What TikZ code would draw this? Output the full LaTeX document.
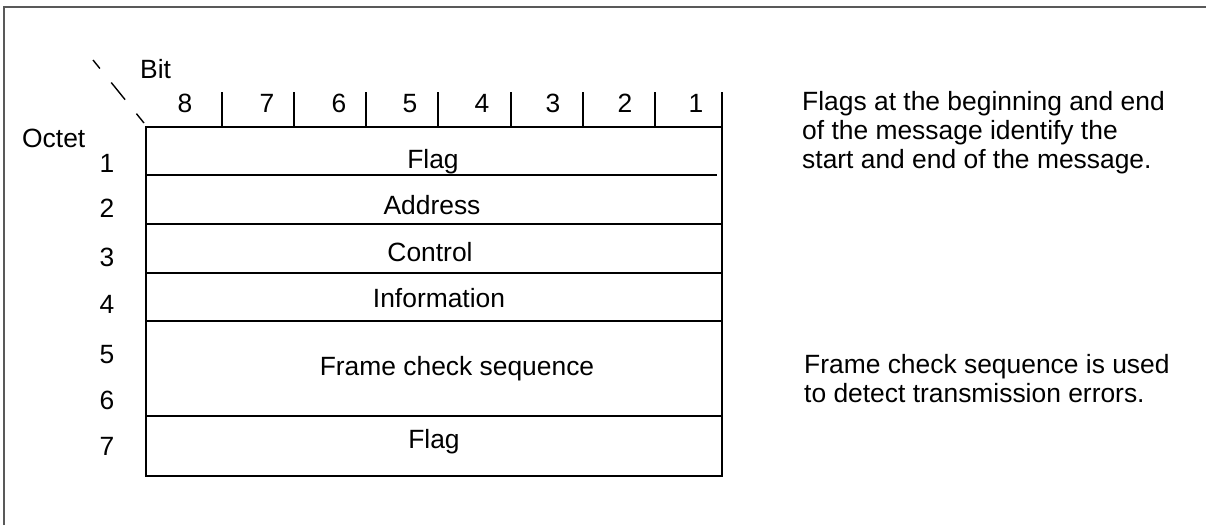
\documentclass[tikz,border=0pt]{standalone}
\usepackage{fontspec}
\setmainfont{Liberation Sans}
\usetikzlibrary{positioning}
\tikzset{
  rule/.style={line width=1.8pt},
  frameline/.style={black!65, line width=1.5pt},
  field/.style={anchor=base, inner sep=0pt},
  numlabel/.style={anchor=base, inner sep=0pt},
  note/.style={anchor=base west, align=left, inner sep=0pt},
}
\begin{document}
\begin{tikzpicture}[x=1pt,y=-1pt,font=\fontsize{26.4}{29}\selectfont]
  \useasboundingbox (0,0) rectangle (1206,525);
  % frame
  \draw[frameline] (4,525) -- (4,7) -- (1206,7);
  % table
  \coordinate (tl) at (146,127);
  \coordinate (br) at (722,476);
  \draw[rule] (tl) rectangle (br);
  \draw[rule] (146,175) -- (717,175);
  \foreach \y in {224,273,321,416}
    \draw[rule] (146,\y) -- (722,\y);
  % bit ticks
  \foreach \x in {222,294,366,438,511,583,655,722}
    \draw[rule] (\x,92) -- (\x,127);
  \draw[line width=1.4pt, dash pattern=on 22pt off 18pt, dash phase=11pt] (93,60) -- (144,123);
  % headings
  \node[anchor=base west, inner sep=0pt] (bit) at (140,78) {Bit};
  \node[anchor=base west, inner sep=0pt] (octet) at (22,147) {Octet};
  \foreach \x/\n in {185/8,267/7,339/6,410/5,482/4,553/3,625/2,696/1}
    \node[numlabel] (bit\n) at (\x,112) {\n};
  \foreach \y/\n in {172/1,217/2,266/3,313/4,363/5,409/6,455/7}
    \node[numlabel] (oct\n) at (107,\y) {\n};
  % fields
  \node[field] (flagtop) at (433,168) {Flag};
  \node[field] (address) at (432,214) {Address};
  \node[field] (control) at (430,261) {Control};
  \node[field] (info) at (439,307) {Information};
  \node[field] (fcs) at (457,375) {Frame check sequence};
  \node[field] (flagend) at (434,448) {Flag};
  % notes (base = last line)
  \node[note] (flagnote) at (802,168) {Flags at the beginning and end\\of the message identify the\\start and end of the message.};
  \node[note] (fcsnote) at (804,402) {Frame check sequence is used\\to detect transmission errors.};
\end{tikzpicture}
\end{document}
